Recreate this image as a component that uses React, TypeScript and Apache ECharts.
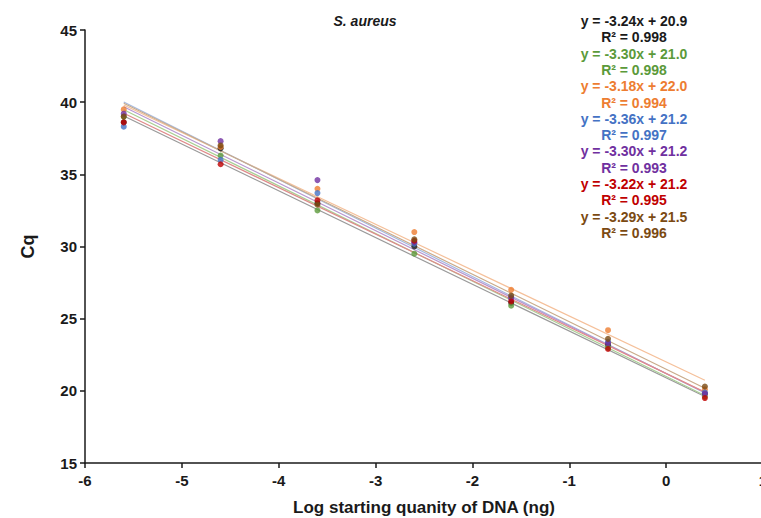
import React, { useEffect, useRef } from "react";
import * as echarts from "echarts";

const xValues = [-5.6, -4.6, -3.6, -2.6, -1.6, -0.6, 0.4];
const seriesNames = ["Run 1", "Run 2", "Run 3", "Run 4", "Run 5", "Run 6", "Run 7"];
const pointColors = ["#1a1a1a", "#5b9a3a", "#ed7d31", "#4472c4", "#7030a0", "#c00000", "#7b4a12"];
const lineColors = ["#9a9a9a", "#a9cf94", "#f5c09a", "#a3b9e1", "#b897d0", "#e08a8a", "#c9ab8a"];
const slopes = [-3.24, -3.3, -3.18, -3.36, -3.3, -3.22, -3.29];
const intercepts = [20.9, 21.0, 22.0, 21.2, 21.2, 21.2, 21.5];
const r2Values = [0.998, 0.998, 0.994, 0.997, 0.993, 0.995, 0.996];

const cqBlack = [38.6, 36.8, 33.0, 30.0, 26.1, 23.2, 19.8];
const cqGreen = [39.0, 36.3, 32.5, 29.5, 25.9, 23.0, 19.6];
const cqOrange = [39.5, 36.9, 34.0, 31.0, 27.0, 24.2, 20.1];
const cqBlue = [38.3, 36.0, 33.7, 30.2, 26.5, 23.4, 19.9];
const cqPurple = [39.2, 37.3, 34.6, 30.3, 26.4, 23.3, 19.8];
const cqRed = [38.6, 35.7, 33.2, 30.4, 26.2, 22.9, 19.5];
const cqBrown = [39.0, 37.0, 32.9, 30.5, 26.6, 23.6, 20.3];
const cqAll = [cqBlack, cqGreen, cqOrange, cqBlue, cqPurple, cqRed, cqBrown];

const FONT = "'Liberation Sans', Arial, sans-serif";

export default function App() {
  const ref = useRef<HTMLDivElement>(null);
  useEffect(() => {
    document.body.style.margin = "0";
    const chart = echarts.init(ref.current!, null, { renderer: "svg" });
    const xMin = xValues[0];
    const xMax = xValues[xValues.length - 1];

    const lineSeries = slopes.map((m, i) => ({
      type: "line",
      name: seriesNames[i] + " trend",
      data: [
        [xMin, m * xMin + intercepts[i]],
        [xMax, m * xMax + intercepts[i]],
      ],
      symbol: "none",
      lineStyle: { color: lineColors[i], width: 1.2 },
      z: 2,
      silent: true,
    }));
    const scatterSeries = cqAll.map((vals, i) => ({
      type: "scatter",
      name: seriesNames[i],
      data: vals.map((v, j) => [xValues[j], v]),
      symbol: "circle",
      symbolSize: 6,
      itemStyle: { color: pointColors[i] },
      z: 3,
    }));

    const eqTexts: any[] = [];
    const startY = 21;
    const step = 16.3;
    slopes.forEach((m, i) => {
      const b = intercepts[i];
      eqTexts.push({
        type: "text",
        x: 634,
        y: startY + step * 2 * i,
        style: {
          text: `y = ${m.toFixed(2)}x + ${b.toFixed(1)}`,
          fill: pointColors[i],
          font: `bold 14px ${FONT}`,
          textAlign: "center",
          textVerticalAlign: "middle",
        },
      });
      eqTexts.push({
        type: "text",
        x: 634,
        y: startY + step * (2 * i + 1),
        style: {
          text: `R² = ${r2Values[i].toFixed(3)}`,
          fill: pointColors[i],
          font: `bold 14px ${FONT}`,
          textAlign: "center",
          textVerticalAlign: "middle",
        },
      });
    });

    chart.setOption({
      animation: false,
      backgroundColor: "#ffffff",
      title: {
        text: "S. aureus",
        left: 360,
        top: 9,
        textAlign: "center",
        textStyle: { fontFamily: FONT, fontStyle: "italic", fontWeight: "bold", fontSize: 14, color: "#1a1a1a" },
      },
      grid: { left: 85, top: 30, width: 678, height: 433, containLabel: false, outerBoundsMode: "none" },
      xAxis: {
        type: "value",
        min: -6,
        max: 1,
        interval: 1,
        name: "Log starting quanity of DNA (ng)",
        nameLocation: "middle",
        nameGap: 36,
        nameTextStyle: { fontFamily: FONT, fontWeight: "bold", fontSize: 17, color: "#1a1a1a" },
        axisLine: { onZero: false, lineStyle: { color: "#1a1a1a", width: 1.5 } },
        axisTick: { show: true, length: 5, lineStyle: { color: "#1a1a1a", width: 1.5 } },
        axisLabel: { fontFamily: FONT, fontWeight: "bold", fontSize: 15, color: "#1a1a1a", margin: 10 },
        splitLine: { show: false },
      },
      yAxis: {
        type: "value",
        min: 15,
        max: 45,
        interval: 5,
        name: "Cq",
        nameLocation: "middle",
        nameGap: 48,
        nameTextStyle: { fontFamily: FONT, fontWeight: "bold", fontSize: 18, color: "#1a1a1a" },
        axisLine: { show: true, onZero: false, lineStyle: { color: "#1a1a1a", width: 1.5 } },
        axisTick: { show: true, length: 5, lineStyle: { color: "#1a1a1a", width: 1.5 } },
        axisLabel: { fontFamily: FONT, fontWeight: "bold", fontSize: 15, color: "#1a1a1a", margin: 8 },
        splitLine: { show: false },
      },
      graphic: eqTexts,
      series: [...lineSeries, ...scatterSeries],
    });
    return () => chart.dispose();
  }, []);
  return <div ref={ref} style={{ width: 761, height: 518 }} />;
}
